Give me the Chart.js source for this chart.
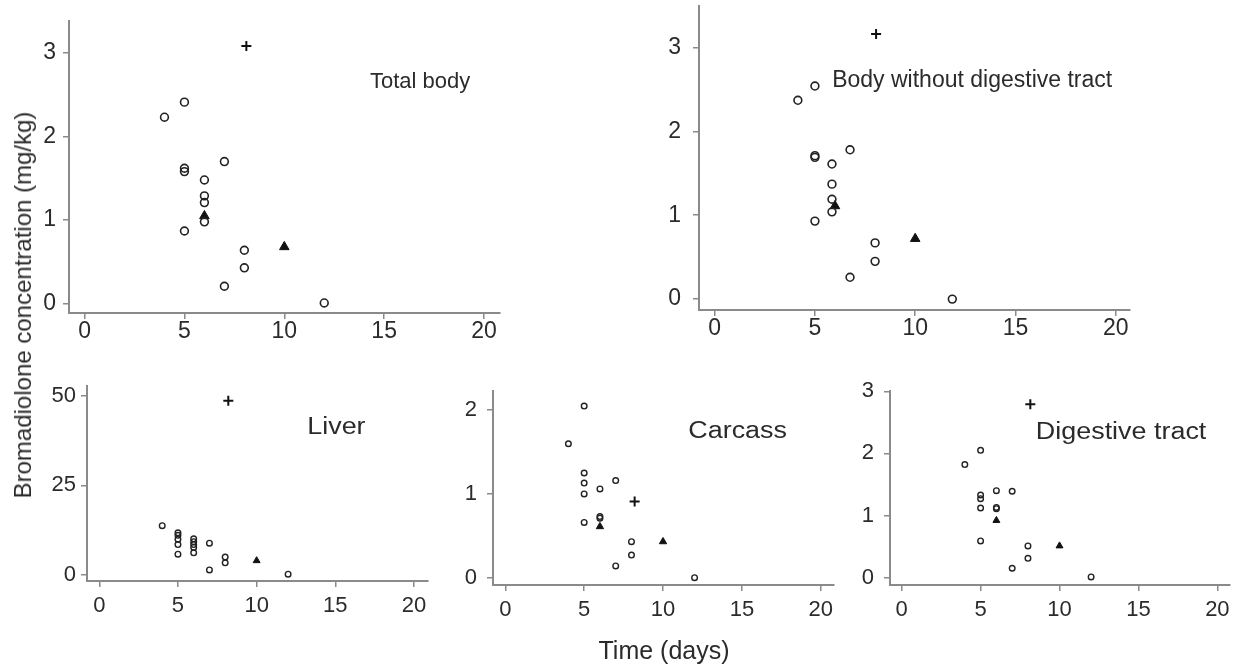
<!DOCTYPE html>
<html>
<head>
<meta charset="utf-8">
<title>Bromadiolone concentration over time</title>
<script src="https://cdn.jsdelivr.net/npm/chart.js@4.4.1/dist/chart.umd.min.js"></script>
<style>
  html, body { margin: 0; padding: 0; background: #fff; }
  #page { position: relative; width: 1239px; height: 665px; overflow: hidden; background: #fff; }
  #page canvas { position: absolute; }
  .axis-title {
    position: absolute;
    font-family: "Liberation Sans", Arial, sans-serif;
    color: #2b2b2b;
    white-space: nowrap;
    transform: translate(-50%, -50%);
  }
  #yTitle { left: 23px; top: 305px; font-size: 24px; transform: translate(-50%, -50%) rotate(-90deg); }
  #xTitle { left: 664px; top: 650px; font-size: 25px; }
</style>
</head>
<body>
<div id="page">
  <canvas id="totalChart"></canvas>
  <canvas id="bodyChart"></canvas>
  <canvas id="liverChart"></canvas>
  <canvas id="carcassChart"></canvas>
  <canvas id="digestiveChart"></canvas>
  <div class="axis-title" id="yTitle">Bromadiolone concentration (mg/kg)</div>
  <div class="axis-title" id="xTitle">Time (days)</div>
</div>
<script>
// tick labels
const dayTicks = [0, 5, 10, 15, 20];
const totalTicks = [0, 1, 2, 3];
const bodyTicks = [0, 1, 2, 3];
const liverTicks = [0, 25, 50];
const carcassTicks = [0, 1, 2];
const digestiveTicks = [0, 1, 2, 3];

// Total body
const totalCircleDays = [4, 5, 5, 5, 5, 6, 6, 6, 6, 7, 7, 8, 8, 12];
const totalCircleConc = [2.23, 2.41, 1.62, 1.58, 0.87, 1.48, 1.29, 1.21, 0.98, 1.70, 0.21, 0.64, 0.43, 0.01];
const totalTriangleDays = [6, 10];
const totalTriangleConc = [1.05, 0.68];
const totalPlusDays = [8.1];
const totalPlusConc = [3.08];

// Body without digestive tract
const bodyCircleDays = [4.15, 5, 5, 5, 5, 5.85, 5.85, 5.85, 5.85, 6.75, 6.75, 8, 8, 11.85];
const bodyCircleConc = [2.37, 2.54, 1.71, 1.69, 0.93, 1.61, 1.37, 1.19, 1.04, 1.78, 0.26, 0.67, 0.45, 0.0];
const bodyTriangleDays = [6, 10];
const bodyTriangleConc = [1.11, 0.72];
const bodyPlusDays = [8.05];
const bodyPlusConc = [3.16];

// Liver
const liverCircleDays = [4, 5, 5, 5, 5, 5, 6, 6, 6, 6, 6, 7, 7, 8, 8, 12];
const liverCircleConc = [13.7, 11.7, 11.0, 9.9, 8.4, 5.7, 10.0, 9.2, 8.4, 7.6, 6.1, 8.8, 1.3, 4.9, 3.3, 0.1];
const liverTriangleDays = [10];
const liverTriangleConc = [3.9];
const liverPlusDays = [8.2];
const liverPlusConc = [48.7];

// Carcass
const carcassCircleDays = [4, 5, 5, 5, 5, 5, 6, 6, 6, 7, 7, 8, 8, 12];
const carcassCircleConc = [1.60, 2.05, 1.25, 1.13, 1.0, 0.66, 1.06, 0.73, 0.71, 1.16, 0.14, 0.43, 0.27, 0.0];
const carcassTriangleDays = [6, 10];
const carcassTriangleConc = [0.61, 0.43];
const carcassPlusDays = [8.2];
const carcassPlusConc = [0.91];

// Digestive tract
const digestiveCircleDays = [4, 5, 5, 5, 5, 5, 6, 6, 6, 7, 7, 8, 8, 12];
const digestiveCircleConc = [1.82, 2.05, 1.33, 1.27, 1.12, 0.59, 1.40, 1.13, 1.11, 1.39, 0.15, 0.51, 0.31, 0.01];
const digestiveTriangleDays = [6, 10];
const digestiveTriangleConc = [0.92, 0.51];
const digestivePlusDays = [8.15];
const digestivePlusConc = [2.79];

const FONT = '"Liberation Sans", Arial, sans-serif';
const TEXT_COLOR = "#2b2b2b";
const AXIS_COLOR = "#8a8a8a";
const MARK_COLOR = "#222222";

const Y_BOX = 60;   // width reserved for y axis
const X_BOX = 50;   // height reserved for x axis
const PAD_TOP = 20;
const PAD_RIGHT = 20;

const toPoints = (xs, ys) => xs.map((x, i) => ({ x, y: ys[i] }));

// draws the panel caption inside the plot area
const panelLabelPlugin = {
  id: "panelLabel",
  afterDatasetsDraw(chart, args, opts) {
    if (!opts || !opts.text) return;
    const { ctx } = chart;
    const px = chart.scales.x.getPixelForValue(opts.x);
    const py = chart.scales.y.getPixelForValue(opts.y);
    ctx.save();
    ctx.font = `${opts.size}px ${FONT}`;
    ctx.fillStyle = TEXT_COLOR;
    ctx.textAlign = "center";
    ctx.textBaseline = "middle";
    ctx.translate(px, py);
    ctx.scale(opts.stretch || 1, 1);
    ctx.fillText(opts.text, 0, 0);
    ctx.restore();
  },
};

function makePanel(id, panel) {
  const a = panel.area;
  const canvas = document.getElementById(id);
  const w = Math.round(Y_BOX + (a.right - a.left) + PAD_RIGHT);
  const h = Math.round(PAD_TOP + (a.bottom - a.top) + X_BOX);
  canvas.width = w;
  canvas.height = h;
  canvas.style.width = w + "px";
  canvas.style.height = h + "px";
  canvas.style.left = a.left - Y_BOX + "px";
  canvas.style.top = a.top - PAD_TOP + "px";

  const gridOpts = {
    display: true,
    drawOnChartArea: false,
    drawTicks: true,
    tickLength: 6,
    color: AXIS_COLOR,
    lineWidth: 1.5,
  };
  const borderOpts = { display: true, color: AXIS_COLOR, width: 2 };

  const chart = new Chart(canvas.getContext("2d"), {
    type: "scatter",
    data: {
      datasets: [
        {
          data: toPoints(panel.circles[0], panel.circles[1]),
          pointStyle: "circle",
          pointRadius: panel.circleR,
          pointBorderWidth: panel.circleW,
          pointBorderColor: MARK_COLOR,
          pointBackgroundColor: "rgba(0,0,0,0)",
          clip: false,
        },
        {
          data: toPoints(panel.triangles[0], panel.triangles[1]),
          pointStyle: "triangle",
          pointRadius: panel.triR,
          pointBorderWidth: 1,
          pointBorderColor: "#111",
          pointBackgroundColor: "#111",
          clip: false,
        },
        {
          data: toPoints(panel.plus[0], panel.plus[1]),
          pointStyle: "cross",
          pointRadius: 5,
          pointBorderWidth: 2,
          pointBorderColor: "#111",
          clip: false,
        },
      ],
    },
    options: {
      responsive: false,
      animation: false,
      events: [],
      layout: { padding: { top: PAD_TOP, right: PAD_RIGHT, left: 0, bottom: 0 } },
      plugins: {
        legend: { display: false },
        tooltip: { enabled: false },
        panelLabel: panel.label,
      },
      scales: {
        x: {
          type: "linear",
          min: panel.xRange[0],
          max: panel.xRange[1],
          grid: gridOpts,
          border: borderOpts,
          ticks: {
            color: TEXT_COLOR,
            font: { family: FONT, size: panel.tickSize, lineHeight: 1 },
            padding: panel.xPad,
            maxRotation: 0,
            autoSkip: false,
            callback: (v) => String(v),
          },
          afterBuildTicks: (scale) => {
            scale.ticks = dayTicks.map((v) => ({ value: v }));
          },
          afterFit: (scale) => {
            scale.height = X_BOX;
          },
        },
        y: {
          type: "linear",
          min: panel.yRange[0],
          max: panel.yRange[1],
          grid: gridOpts,
          border: borderOpts,
          ticks: {
            color: TEXT_COLOR,
            font: { family: FONT, size: panel.tickSize, lineHeight: 1 },
            padding: panel.yPad,
            autoSkip: false,
            callback: (v) => String(v),
          },
          afterBuildTicks: (scale) => {
            scale.ticks = panel.yTicks.map((v) => ({ value: v }));
          },
          afterFit: (scale) => {
            scale.width = Y_BOX;
          },
        },
      },
    },
    plugins: [panelLabelPlugin],
  });

  // nudge the canvas so the plot area sits exactly where wanted
  const ca = chart.chartArea;
  canvas.style.left = a.left - ca.left + "px";
  canvas.style.top = a.top - ca.top + "px";
  return chart;
}

makePanel("totalChart", {
  area: { left: 69, top: 21, right: 500, bottom: 313 },
  xRange: [-0.78, 20.8],
  yRange: [-0.11, 3.38],
  yTicks: totalTicks,
  circles: [totalCircleDays, totalCircleConc],
  triangles: [totalTriangleDays, totalTriangleConc],
  plus: [totalPlusDays, totalPlusConc],
  circleR: 3.9, circleW: 1.6, triR: 5.5,
  tickSize: 23, xPad: 1, yPad: 7,
  label: { text: "Total body", x: 16.8, y: 2.65, size: 22, stretch: 1 },
});

makePanel("bodyChart", {
  area: { left: 699, top: 5, right: 1130, bottom: 313 },
  xRange: [-0.78, 20.71],
  yRange: [-0.13, 3.5],
  yTicks: bodyTicks,
  circles: [bodyCircleDays, bodyCircleConc],
  triangles: [bodyTriangleDays, bodyTriangleConc],
  plus: [bodyPlusDays, bodyPlusConc],
  circleR: 3.9, circleW: 1.6, triR: 5.5,
  tickSize: 23, xPad: 1, yPad: 12,
  label: { text: "Body without digestive tract", x: 12.84, y: 2.6, size: 23, stretch: 1 },
});

makePanel("liverChart", {
  area: { left: 87, top: 386, right: 428, bottom: 581 },
  xRange: [-0.78, 20.89],
  yRange: [-1.8, 52.8],
  yTicks: liverTicks,
  circles: [liverCircleDays, liverCircleConc],
  triangles: [liverTriangleDays, liverTriangleConc],
  plus: [liverPlusDays, liverPlusConc],
  circleR: 2.8, circleW: 1.4, triR: 4,
  tickSize: 22, xPad: 8, yPad: 5,
  label: { text: "Liver", x: 15.07, y: 41.2, size: 23, stretch: 1.17 },
});

makePanel("carcassChart", {
  area: { left: 493, top: 391, right: 834, bottom: 586 },
  xRange: [-0.78, 20.84],
  yRange: [-0.088, 2.23],
  yTicks: carcassTicks,
  circles: [carcassCircleDays, carcassCircleConc],
  triangles: [carcassTriangleDays, carcassTriangleConc],
  plus: [carcassPlusDays, carcassPlusConc],
  circleR: 2.8, circleW: 1.4, triR: 4.2,
  tickSize: 22, xPad: 8, yPad: 10,
  label: { text: "Carcass", x: 14.73, y: 1.75, size: 23, stretch: 1.17 },
});

makePanel("digestiveChart", {
  area: { left: 890, top: 391, right: 1230, bottom: 586 },
  xRange: [-0.74, 20.8],
  yRange: [-0.12, 3.005],
  yTicks: digestiveTicks,
  circles: [digestiveCircleDays, digestiveCircleConc],
  triangles: [digestiveTriangleDays, digestiveTriangleConc],
  plus: [digestivePlusDays, digestivePlusConc],
  circleR: 2.8, circleW: 1.4, triR: 4,
  tickSize: 22, xPad: 8, yPad: 10,
  label: { text: "Digestive tract", x: 13.9, y: 2.34, size: 23, stretch: 1.17 },
});
</script>
</body>
</html>
